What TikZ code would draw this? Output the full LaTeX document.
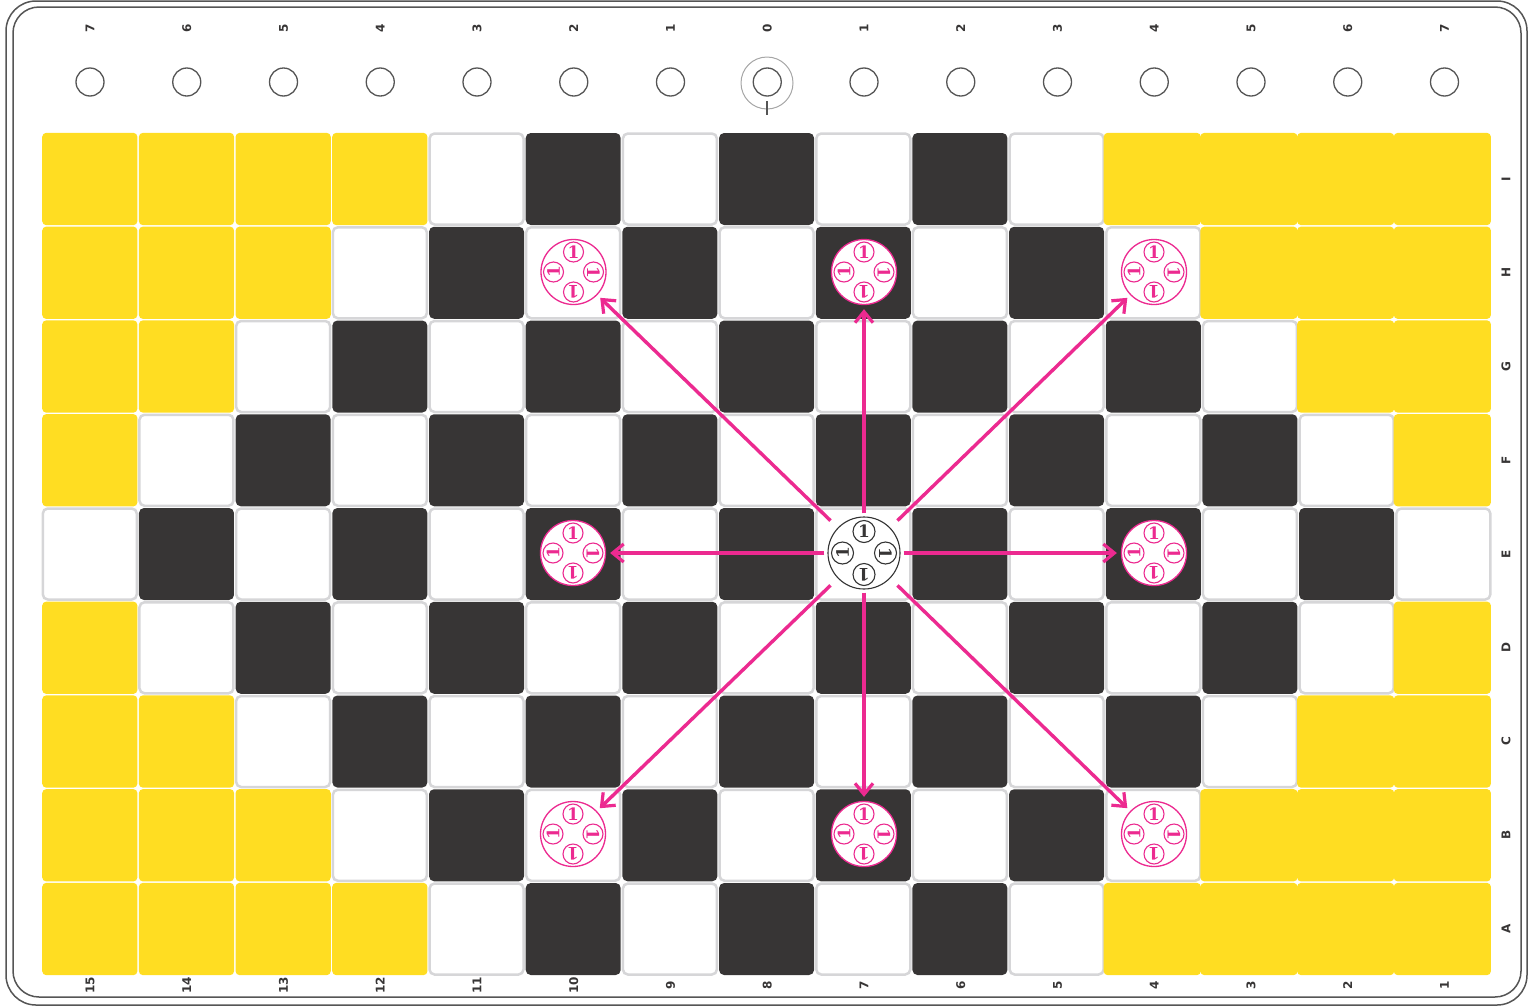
\documentclass[tikz,border=0pt]{standalone}
\usepackage{fontspec}
\setmainfont{DejaVu Sans}
\newfontfamily\rotorfont{DejaVu Serif}
\usetikzlibrary{arrows.meta}
\definecolor{cellY}{HTML}{FFDD22}
\definecolor{cellD}{HTML}{373535}
\definecolor{cellE}{HTML}{D6D6D8}
\definecolor{pinkA}{HTML}{EC2A90}
\definecolor{frameC}{HTML}{555555}
\tikzset{
  yellowcell/.style={fill=cellY,rounded corners=4,minimum width=95.2,minimum height=92.3,inner sep=0,outer sep=0},
  yellowwide/.style={fill=cellY,rounded corners=4,minimum width=97.2,minimum height=92.3,inner sep=0,outer sep=0,xshift=-1},
  darkcell/.style={fill=cellD,rounded corners=5,minimum width=95,minimum height=92,inner sep=0,outer sep=0},
  whitecell/.style={fill=white,draw=cellE,line width=2.5,rounded corners=5,minimum width=94,minimum height=91,inner sep=0,outer sep=0},
  framebox/.style={draw=frameC,line width=1.5,rounded corners=30},
  hole/.style={circle,draw=frameC,line width=1.3,minimum size=28,inner sep=0,fill=white},
  zeroring/.style={circle,draw=gray!70,line width=1,minimum size=52,inner sep=0},
  scale label/.style={font=\bfseries\fontsize{12}{12}\selectfont,text=cellD,rotate=90,inner sep=0},
  rotorblack/.style={circle,draw=black!80,line width=1.1,minimum size=72,inner sep=0,fill=white},
  rotorpink/.style={circle,draw=pinkA,line width=1.3,minimum size=65,inner sep=0,fill=white},
  pinarrow/.style={draw=pinkA,line width=3.4,-{Straight Barb[length=11,width=18,line width=3.2]}},
}
% #1 name, #2 x, #3 y, #4 offset, #5 ring colour, #6 pin fill, #7 digit colour, #8 size
\newcommand{\rotorpins}[8]{%
  \foreach \dx/\dy/\rr/\pn in {0/-1/0/t,0/1/180/b,-1/0/90/l,1/0/-90/r}{
    \node[circle,draw=#5,fill=#6,line width=1.1,minimum size=#8,inner sep=0,text=#7,
      font=\rotorfont\bfseries\fontsize{17}{17}\selectfont,rotate=\rr] (#1\pn) at ({#2+\dx*#4},{#3+\dy*#4}) {1};
  }}
\begin{document}
\begin{tikzpicture}[x=1pt,y=-1pt]
\useasboundingbox (0,0) rectangle (1528,1007);
\node[framebox,minimum width=1521,minimum height=1004,inner sep=0] (outerframe) at (766.5,503) {};
\node[framebox,minimum width=1508,minimum height=990,inner sep=0,rounded corners=26] (innerframe) at (767,502) {};

% top row
\foreach \i/\t in {0/7,1/6,2/5,3/4,4/3,5/2,6/1,7/0,8/1,9/2,10/3,11/4,12/5,13/6,14/7}{
  \node[scale label] (top\i) at ({90+96.75*\i},28) {\t};
  \node[hole] (hole\i) at ({90+96.75*\i},82) {};
}
\node[zeroring] (zeroring) at (767,83) {};
\coordinate (ticktop) at (767,101);
\coordinate (tickbot) at (767,115);
\draw[frameC,line width=1.2] (ticktop) -- (tickbot);

% bottom row
\foreach \i/\t in {0/15,1/14,2/13,3/12,4/11,5/10,6/9,7/8,8/7,9/6,10/5,11/4,12/3,13/2,14/1}{
  \node[scale label] (bot\i) at ({90+96.75*\i},985) {\t};
}
% right column
\foreach \j/\t in {0/I,1/H,2/G,3/F,4/E,5/D,6/C,7/B,8/A}{
  \node[scale label] (side\j) at (1506,{179+93.75*\j}) {\t};
}

% board: white cells first, so that their grey edge lies under their neighbours
\foreach \j in {0,...,8}{
  \foreach \i in {0,...,14}{
    \pgfmathtruncatemacro{\dist}{abs(\j-4)+abs(\i-7)}
    \pgfmathtruncatemacro{\prty}{mod(\i+\j,2)}
    \pgfmathsetmacro{\cx}{89.8+96.68*\i}
    \pgfmathsetmacro{\cy}{179+93.75*\j}
    \ifnum\dist>7\else
      \ifnum\prty=0
        \node[whitecell] (c\i-\j) at (\cx,\cy) {};
      \fi
    \fi
  }
}
\foreach \j in {0,...,8}{
  \foreach \i in {0,...,14}{
    \pgfmathtruncatemacro{\dist}{abs(\j-4)+abs(\i-7)}
    \pgfmathtruncatemacro{\prty}{mod(\i+\j,2)}
    \pgfmathsetmacro{\cx}{89.8+96.68*\i}
    \pgfmathsetmacro{\cy}{179+93.75*\j}
    \ifnum\dist>7
      \ifnum\i>7
        \node[yellowwide] (c\i-\j) at (\cx,\cy) {};
      \else
        \node[yellowcell] (c\i-\j) at (\cx,\cy) {};
      \fi
    \else
      \ifnum\prty=1
        \node[darkcell] (c\i-\j) at (\cx,\cy) {};
      \fi
    \fi
  }
}

% rotors
\node[rotorblack] (main) at (864,553) {};
\rotorpins{main}{864}{553}{21.5}{black!80}{white}{cellD}{22}
\foreach \n/\x/\y in {nw/573.5/272,ww/573/553,sw/573/834,ee/1154/553,ne/1154/272,se/1154/834,nn/864/272,ss/864/834}{
  \node[rotorpink] (\n) at (\x,\y) {};
  \rotorpins{\n}{\x}{\y}{20}{pinkA}{white}{pinkA}{20}
}

% arrows
\draw[pinarrow,shorten <=3,shorten >=4] (main) -- (ww);
\draw[pinarrow,shorten <=3,shorten >=4] (main) -- (ee);
\draw[pinarrow,shorten <=3,shorten >=4] (main) -- (nn);
\draw[pinarrow,shorten <=3,shorten >=4] (main) -- (ss);
\draw[pinarrow,shorten <=10,shorten >=4] (main) -- (nw);
\draw[pinarrow,shorten <=10,shorten >=4] (main) -- (ne);
\draw[pinarrow,shorten <=10,shorten >=4] (main) -- (sw);
\draw[pinarrow,shorten <=10,shorten >=4] (main) -- (se);
\end{tikzpicture}
\end{document}
